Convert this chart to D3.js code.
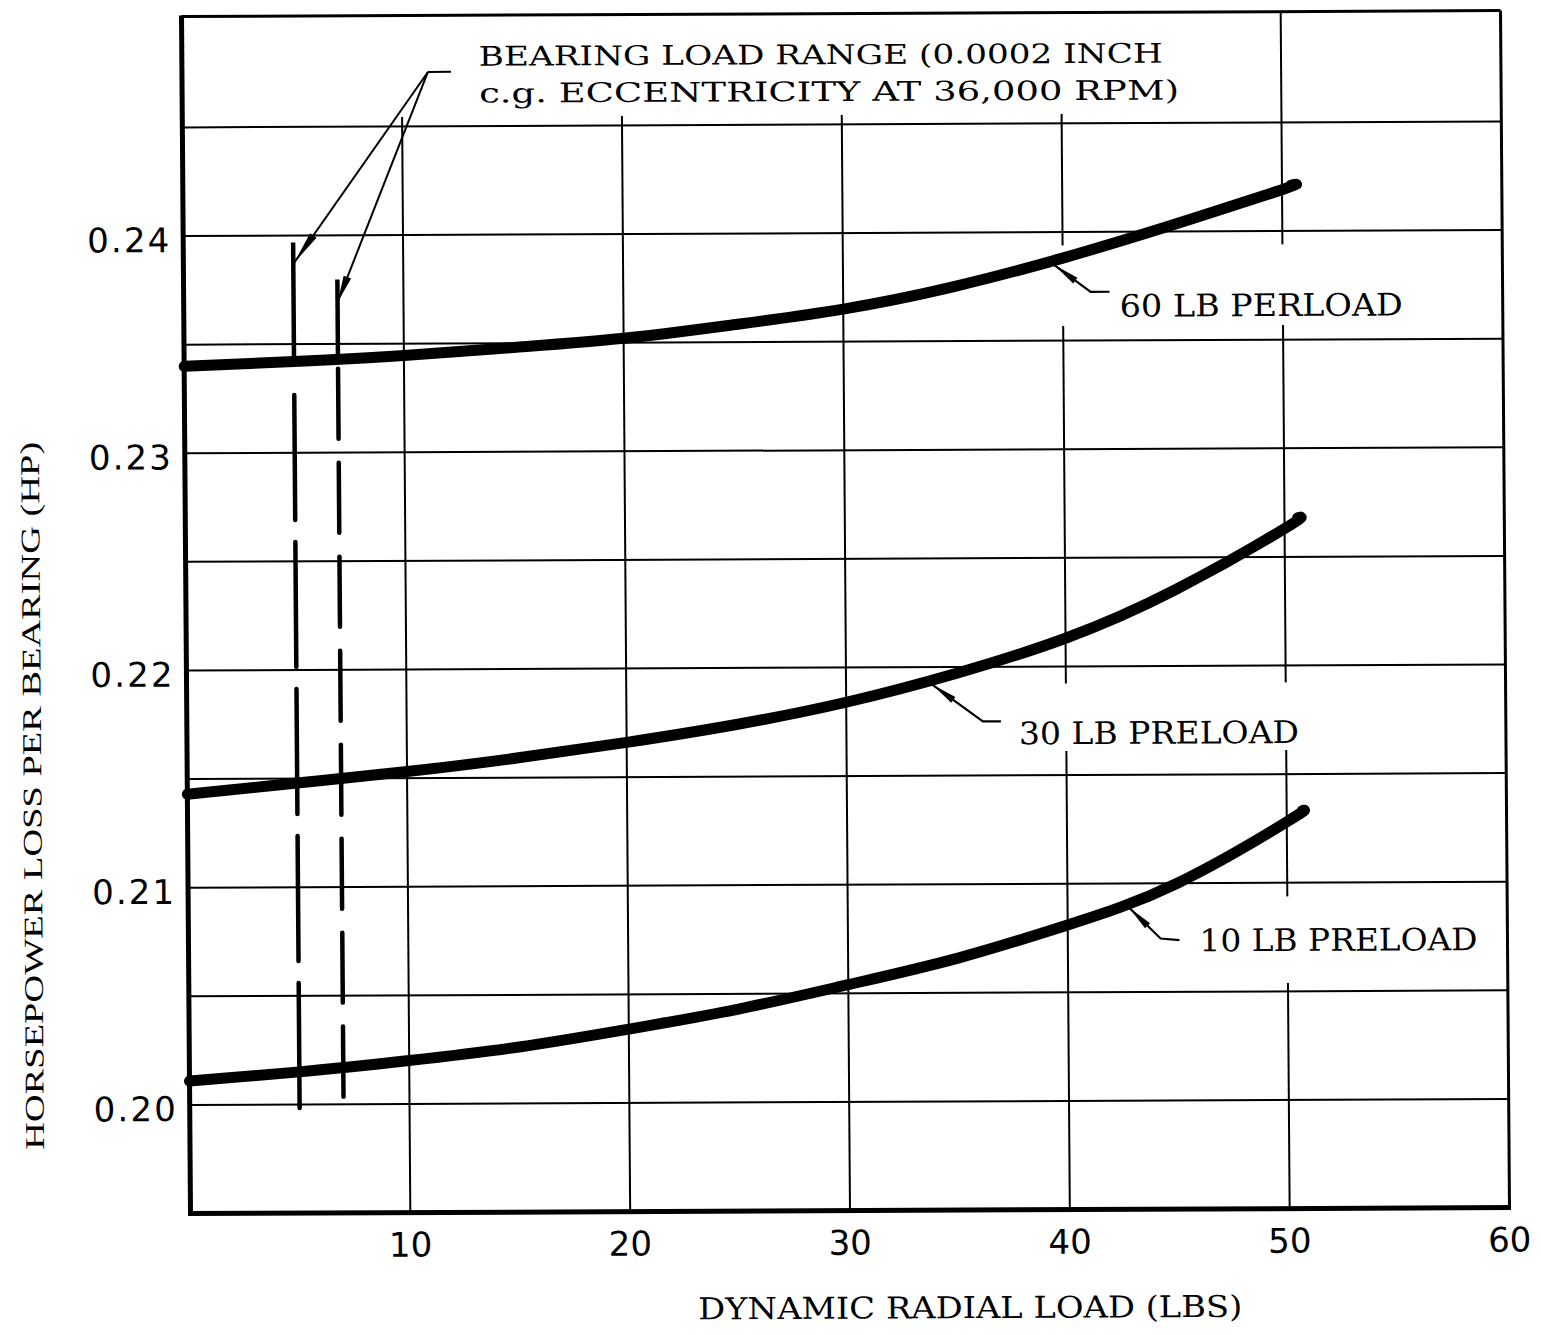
<!DOCTYPE html>
<html>
<head>
<meta charset="utf-8">
<script src="https://cdn.jsdelivr.net/npm/d3@7"></script>
<style>
  html, body { margin: 0; padding: 0; background: #ffffff; }
  svg { display: block; }
</style>
</head>
<body>
<svg id="chart" width="1541" height="1335"></svg>
<script>
// ---------------- DATA ----------------
const xTickValues = [10, 20, 30, 40, 50, 60];
const xTickLabels = ["10", "20", "30", "40", "50", "60"];
const yTickValues = [0.20, 0.21, 0.22, 0.23, 0.24];
const yTickLabels = ["0.20", "0.21", "0.22", "0.23", "0.24"];
const xGridValues = [10, 20, 30, 40, 50];
const yGridValues = [0.200, 0.205, 0.210, 0.215, 0.220, 0.225, 0.230, 0.235, 0.240, 0.245];

const load60 = [0, 5, 10, 15, 20, 25, 30, 35, 40, 45, 50, 50.4];
const hp60   = [0.2340, 0.2342, 0.23445, 0.2348, 0.2352, 0.2358, 0.2365, 0.2375, 0.2388, 0.2403, 0.2419, 0.2421];
const load30 = [0, 5, 10, 15, 20, 25, 30, 35, 40, 45, 50, 50.6];
const hp30   = [0.2143, 0.2148, 0.2153, 0.2159, 0.2166, 0.2174, 0.2184, 0.2197, 0.2213, 0.2235, 0.2263, 0.2268];
const load10 = [0, 5, 10, 15, 20, 25, 30, 35, 40, 45, 50, 50.7];
const hp10   = [0.2011, 0.2015, 0.2020, 0.2026, 0.2034, 0.2043, 0.2054, 0.2066, 0.2081, 0.2100, 0.2128, 0.2133];

const seriesLabels = ["60 LB PERLOAD", "30 LB PRELOAD", "10 LB PRELOAD"];

// bearing load range (two vertical marks)
const rangeLoads  = [5, 7];
const rangeTopHp  = [0.23968, 0.23797];
const rangeBottomHp = 0.19926;

const annotationLines = ["BEARING LOAD RANGE (0.0002 INCH", "c.g. ECCENTRICITY AT 36,000 RPM)"];

const xTitle = "DYNAMIC RADIAL LOAD (LBS)";
const yTitle = "HORSEPOWER LOSS PER BEARING (HP)";

// ---------------- LAYOUT ----------------
const svg = d3.select("#chart");
const cx = 845, cy = 612;
const root = svg.append("g")
  .attr("transform", `translate(${cx},${cy}) rotate(-0.26) skewX(0.17) translate(${-cx},${-cy})`);

const x = d3.scaleLinear().domain([0, 60]).range([186, 1505]);
const y = d3.scaleLinear().domain([0.195, 0.2501]).range([1210.6, 13.6]);

const serifFont = "'DejaVu Serif', 'Liberation Serif', serif";
const sansFont = "'DejaVu Sans', 'Liberation Sans', sans-serif";

const series = [
  { label: seriesLabels[0], load: load60, hp: hp60 },
  { label: seriesLabels[1], load: load30, hp: hp30 },
  { label: seriesLabels[2], load: load10, hp: hp10 }
];

// label placement (data units) + white mask padding [left, right, top, bottom]
const labelLayout = [
  { tx: 42.58, ty: 0.23609, len: 283, tip: 39.4, bend: [41.26, 0.23724], end: [42.12, 0.23724], pad: [67, 15, 49, 9] },
  { tx: 37.85, ty: 0.21643, len: 280, tip: 33.7, bend: [36.21, 0.21749], end: [37.03, 0.21749], pad: [18, 12, 38, 7] },
  { tx: 45.99, ty: 0.20686, len: 278, tip: 42.6, bend: [44.22, 0.20746], end: [45.08, 0.20738], pad: [37, 8, 32, 32] }
];
const labelSize = 31, labelCap = 0.729 * labelSize;

const annot = { tx: 13.51, ty: [0.24778, 0.24608], len: [684, 700], size: 27,
  origin: [11.19, 0.2475], hEnd: 12.24, tips: [[5.05, 0.23876], [7.0, 0.23692]] };

const gGrid = root.append("g");
const gMask = root.append("g");
const gFrame = root.append("g");
const gMarks = root.append("g");
const gAnn = root.append("g");
const gText = root.append("g");

// grid
gGrid.selectAll("line.v").data(xGridValues).join("line")
  .attr("x1", d => x(d)).attr("x2", d => x(d))
  .attr("y1", y(0.2501)).attr("y2", y(0.195))
  .attr("stroke", "#000").attr("stroke-width", 2);
gGrid.selectAll("line.h").data(yGridValues).join("line")
  .attr("x1", x(0)).attr("x2", x(60))
  .attr("y1", d => y(d)).attr("y2", d => y(d))
  .attr("stroke", "#000").attr("stroke-width", 2);

// white masks behind text
function maskRect(x0, x1, y0, y1) {
  gMask.append("rect").attr("x", x0).attr("y", y0)
    .attr("width", x1 - x0).attr("height", y1 - y0).attr("fill", "#fff");
}
labelLayout.forEach(L => {
  const bx = x(L.tx), by = y(L.ty);
  maskRect(bx - L.pad[0], bx + L.len + L.pad[1], by - labelCap - L.pad[2], by + L.pad[3]);
});
{
  const ax = x(annot.tx);
  maskRect(ax - 88, ax + annot.len[1] + 12, y(0.2501), y(annot.ty[1]) + 14);
}

// frame
const fx0 = x(0), fx1 = x(60), fy0 = y(0.2501), fy1 = y(0.195);
gFrame.append("line").attr("x1", fx0).attr("x2", fx1).attr("y1", fy0).attr("y2", fy0)
  .attr("stroke", "#000").attr("stroke-width", 3);
gFrame.append("line").attr("x1", fx1).attr("x2", fx1).attr("y1", fy0).attr("y2", fy1)
  .attr("stroke", "#000").attr("stroke-width", 3);
gFrame.append("line").attr("x1", fx0).attr("x2", fx0).attr("y1", fy0 - 1).attr("y2", fy1 + 2.5)
  .attr("stroke", "#000").attr("stroke-width", 5);
gFrame.append("line").attr("x1", fx0 - 2.5).attr("x2", fx1 + 1.5).attr("y1", fy1).attr("y2", fy1)
  .attr("stroke", "#000").attr("stroke-width", 5);

// curves
const line = d3.line().x(d => x(d[0])).y(d => y(d[1])).curve(d3.curveNatural);
series.forEach(s => {
  s.points = s.load.map((l, i) => [l, s.hp[i]]);
  gMarks.append("path").attr("d", line(s.points))
    .attr("fill", "none").attr("stroke", "#000")
    .attr("stroke-width", 11).attr("stroke-linecap", "round").attr("stroke-linejoin", "round");
});
function hpAt(s, l) {
  return d3.scaleLinear().domain(s.load).range(s.hp)(l);
}

// bearing load range vertical marks
const dashPatterns = ["125,22", "70,24"];
const dashGapAfterCurve = [28, 4];
rangeLoads.forEach((l, i) => {
  const cyv = y(hpAt(series[0], l));
  gMarks.append("line").attr("x1", x(l)).attr("x2", x(l))
    .attr("y1", y(rangeTopHp[i])).attr("y2", cyv)
    .attr("stroke", "#000").attr("stroke-width", 4.5);
  gMarks.append("line").attr("x1", x(l)).attr("x2", x(l))
    .attr("y1", cyv + 5.5 + dashGapAfterCurve[i]).attr("y2", y(rangeBottomHp))
    .attr("stroke", "#000").attr("stroke-width", 4.5)
    .attr("stroke-dasharray", dashPatterns[i]).attr("stroke-linecap", "round");
});

// arrowhead helper
function arrowHead(tipX, tipY, fromX, fromY, len, halfW) {
  const dx = tipX - fromX, dy = tipY - fromY, d = Math.hypot(dx, dy);
  const ux = dx / d, uy = dy / d;
  const bx = tipX - ux * len, by = tipY - uy * len;
  const px = -uy * halfW, py = ux * halfW;
  gAnn.append("path")
    .attr("d", `M${tipX},${tipY}L${bx + px},${by + py}L${bx - px},${by - py}Z`)
    .attr("fill", "#000");
}

// top annotation leaders
{
  const ox = x(annot.origin[0]), oy = y(annot.origin[1]);
  gAnn.append("line").attr("x1", ox).attr("x2", x(annot.hEnd)).attr("y1", oy).attr("y2", oy)
    .attr("stroke", "#000").attr("stroke-width", 2);
  annot.tips.forEach((t, i) => {
    const tx = x(t[0]), ty = y(t[1]);
    gAnn.append("line").attr("x1", ox).attr("y1", oy).attr("x2", tx).attr("y2", ty)
      .attr("stroke", "#000").attr("stroke-width", 2);
    arrowHead(tx, ty, ox, oy, i === 0 ? 33 : 27, 4);
  });
}

// series label leaders
labelLayout.forEach((L, i) => {
  const s = series[i];
  const tipPx = x(L.tip), tipPy = y(hpAt(s, L.tip));
  const bx = x(L.bend[0]), by = y(L.bend[1]);
  const ex = x(L.end[0]), ey = y(L.end[1]);
  const dx = bx - tipPx, dy = by - tipPy, d = Math.hypot(dx, dy);
  const tX = tipPx + dx / d * 6, tY = tipPy + dy / d * 6;
  gAnn.append("path").attr("d", `M${ex},${ey}L${bx},${by}L${tX},${tY}`)
    .attr("fill", "none").attr("stroke", "#000").attr("stroke-width", 2.2);
  arrowHead(tX, tY, bx, by, 26, 3.6);
});

// series labels
labelLayout.forEach((L, i) => {
  gText.append("text").attr("x", x(L.tx)).attr("y", y(L.ty))
    .attr("font-family", serifFont).attr("font-size", labelSize)
    .attr("textLength", L.len).attr("lengthAdjust", "spacingAndGlyphs")
    .attr("fill", "#000").text(series[i].label);
});

// annotation text
annotationLines.forEach((t, i) => {
  gText.append("text").attr("x", x(annot.tx)).attr("y", y(annot.ty[i]))
    .attr("font-family", serifFont).attr("font-size", annot.size)
    .attr("textLength", annot.len[i]).attr("lengthAdjust", "spacingAndGlyphs")
    .attr("fill", "#000").text(t);
});

// tick labels
gText.selectAll("text.xt").data(xTickValues).join("text")
  .attr("x", d => x(d)).attr("y", y(0.195) + 44)
  .attr("text-anchor", "middle")
  .attr("font-family", sansFont).attr("font-size", 34)
  .attr("fill", "#000")
  .text((d, i) => xTickLabels[i]);
gText.selectAll("text.yt").data(yTickValues).join("text")
  .attr("x", x(0) - 14).attr("y", d => y(d) + 16)
  .attr("text-anchor", "end")
  .attr("font-family", sansFont).attr("font-size", 34)
  .attr("textLength", 82).attr("lengthAdjust", "spacing")
  .attr("fill", "#000")
  .text((d, i) => yTickLabels[i]);

// axis titles
gText.append("text")
  .attr("x", 965).attr("y", y(0.195) + 108)
  .attr("text-anchor", "middle")
  .attr("font-family", serifFont).attr("font-size", 30)
  .attr("textLength", 544).attr("lengthAdjust", "spacingAndGlyphs")
  .attr("fill", "#000").text(xTitle);
gText.append("text")
  .attr("transform", `translate(40, ${(y(0.2501) + y(0.195)) / 2 + 180}) rotate(-90)`)
  .attr("text-anchor", "middle")
  .attr("font-family", "'Liberation Serif', 'DejaVu Serif', serif").attr("font-size", 27)
  .attr("textLength", 708).attr("lengthAdjust", "spacingAndGlyphs")
  .attr("fill", "#000").text(yTitle);
</script>
</body>
</html>
